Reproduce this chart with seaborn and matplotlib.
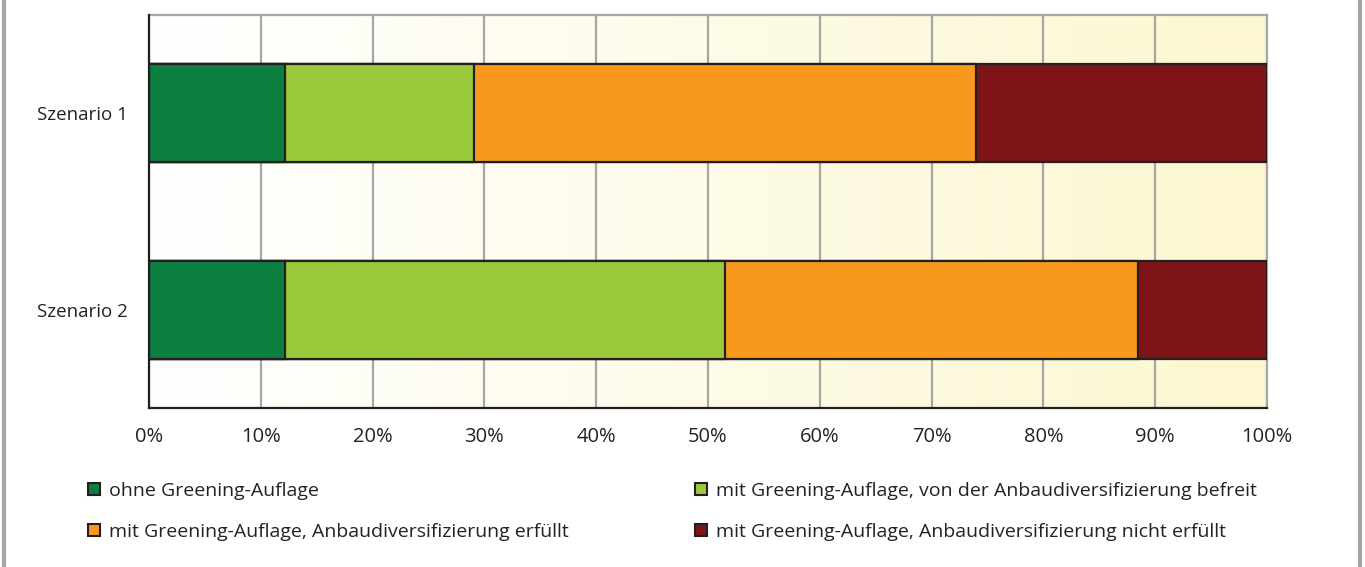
import numpy as np
import pandas as pd
import matplotlib
matplotlib.use("Agg")
import matplotlib.pyplot as plt
from matplotlib.patches import Patch
from matplotlib.lines import Line2D
from matplotlib.colors import LinearSegmentedColormap
import seaborn as sns

scenarios = ["Szenario 1", "Szenario 2"]
series_names = [
    "ohne Greening-Auflage",
    "mit Greening-Auflage, von der Anbaudiversifizierung befreit",
    "mit Greening-Auflage, Anbaudiversifizierung erfüllt",
    "mit Greening-Auflage, Anbaudiversifizierung nicht erfüllt",
]
ohne = [12.2, 12.2]
befreit = [16.9, 39.3]
erfuellt = [44.9, 37.0]
nicht_erfuellt = [26.0, 11.5]
colors = ["#0B7F40", "#9ACA3C", "#F8991D", "#7F1416"]
xticklabels = ["0%", "10%", "20%", "30%", "40%", "50%", "60%", "70%", "80%", "90%", "100%"]

sns.set_theme(style="white")
plt.rcParams["font.family"] = ["Open Sans", "DejaVu Sans"]

fig = plt.figure(figsize=(13.65, 5.67), dpi=100)
ax = fig.add_axes([149 / 1365, 1 - 408 / 567, (1267 - 149) / 1365, (408 - 15) / 567])

series = [ohne, befreit, erfuellt, nicht_erfuellt]
cum = np.cumsum(np.array(series), axis=0)

# gradient background
grad = np.linspace(0, 1, 256).reshape(1, -1)
cmap = LinearSegmentedColormap.from_list("bg", ["#FFFFFF", "#FCF7D0"])
ax.imshow(grad, cmap=cmap, aspect="auto", extent=[0, 100, 1.5, -0.5], zorder=0)

for i in range(len(series) - 1, -1, -1):
    df = pd.DataFrame({"scenario": scenarios, "value": cum[i]})
    sns.barplot(data=df, x="value", y="scenario", orient="h", color=colors[i],
                width=0.5, edgecolor="#231F20", linewidth=1.6, ax=ax,
                saturation=1, zorder=3)

ax.set_xlim(0, 100)
ax.set_ylim(1.5, -0.5)
ax.set_xticks(np.arange(0, 101, 10))
ax.set_xticklabels(xticklabels, fontsize=14.5, color="#222222")
ax.set_yticks([0, 1])
ax.set_yticklabels(scenarios, fontsize=13.5, color="#222222")
ax.set_yticks([-0.5, 0.5, 1.5], minor=True)
ax.tick_params(axis="y", which="major", length=0, pad=15)
ax.tick_params(axis="y", which="minor", length=6, width=1.6, color="#231F20", direction="out")
ax.tick_params(axis="x", which="major", length=6, width=1.6, color="#231F20", direction="out", pad=8)
ax.set_xlabel("")
ax.set_ylabel("")
ax.grid(axis="x", color="#A6A6A6", linewidth=1.6, zorder=1)
ax.set_axisbelow(True)
for side in ["top", "right"]:
    ax.spines[side].set_color("#A6A6A6")
    ax.spines[side].set_linewidth(1.6)
for side in ["left", "bottom"]:
    ax.spines[side].set_color("#231F20")
    ax.spines[side].set_linewidth(1.6)
    ax.spines[side].set_zorder(5)

handles = [Patch(facecolor=c, edgecolor="#231F20", linewidth=1.5) for c in colors]
leg_kw = dict(loc="upper left", frameon=False, fontsize=14, handlelength=0.6,
              handleheight=0.6, handletextpad=0.5, labelspacing=1.16,
              borderaxespad=0, borderpad=0, labelcolor="#222222")
fig.legend([handles[0], handles[2]], [series_names[0], series_names[2]],
           bbox_to_anchor=(88 / 1365, 1 - 482 / 567), **leg_kw)
fig.legend([handles[1], handles[3]], [series_names[1], series_names[3]],
           bbox_to_anchor=(695 / 1365, 1 - 482 / 567), **leg_kw)

fig.add_artist(Line2D([4 / 1365, 4 / 1365], [0, 1], transform=fig.transFigure,
                      color="#A6A6A6", linewidth=3))
fig.add_artist(Line2D([1360 / 1365, 1360 / 1365], [0, 1], transform=fig.transFigure,
                      color="#A6A6A6", linewidth=3))

fig.savefig("out.png", dpi=100)
